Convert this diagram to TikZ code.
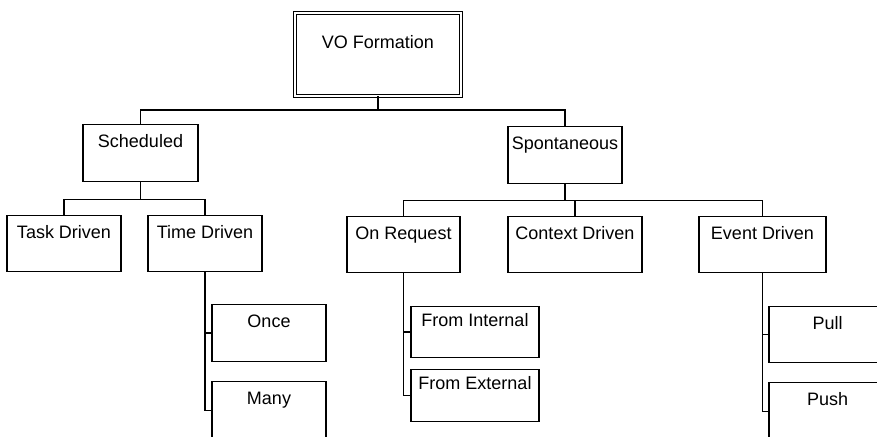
\documentclass[tikz,border=0pt]{standalone}
\usepackage{fontspec}
\setmainfont{Liberation Sans}
\begin{document}
\begin{tikzpicture}[x=1pt,y=-1pt,
  every node/.style={font=\fontsize{18pt}{21pt}\selectfont},
  box/.style={draw, line width=1.3pt, inner sep=0pt, anchor=north,
              text height=23pt, minimum height=0pt},
  rootbox/.style={box, line width=1pt, double, double distance=2pt,
              text height=35pt, text depth=47pt},
  link/.style={line width=1.4pt}]
\useasboundingbox (0,0) rectangle (877,436);
\clip (0,0) rectangle (877,436);

% root
\node[rootbox, minimum width=166pt] (vo) at (378,13) {VO Formation};

% first level
\node[box, minimum width=115pt, text depth=34pt] (sched) at (140.5,124) {Scheduled};
\node[box, minimum width=114pt, text depth=34pt] (spont) at (565,126) {Spontaneous};

% second level
\node[box, minimum width=114pt, text depth=33pt] (task)  at (64,215)    {Task Driven};
\node[box, minimum width=114pt, text depth=33pt] (time)  at (205,215)   {Time Driven};
\node[box, minimum width=113pt, text depth=33pt] (onreq) at (403.5,216) {On Request};
\node[box, minimum width=134pt, text depth=33pt] (ctx)   at (575,216)   {Context Driven};
\node[box, minimum width=127pt, text depth=33pt] (event) at (762.5,216) {Event Driven};

% third level
\node[box, minimum width=114pt, text depth=34pt] (once) at (269,304) {Once};
\node[box, minimum width=114pt, text depth=35pt] (many) at (269,381) {Many};
\node[box, minimum width=128pt, text height=20pt, text depth=31pt] (fromint) at (475,306) {From Internal};
\node[box, minimum width=128pt, text height=20pt, text depth=32pt] (fromext) at (475,369) {From External};
\node[box, minimum width=117pt, text depth=33pt] (pull) at (827.5,306) {Pull};
\node[box, minimum width=117pt, text depth=35pt] (push) at (827.5,382) {Push};

% connectors
\draw[link] (vo.south) -- ++(0,14) coordinate (j0);
\draw[link] (sched.north) |- (j0) -| (spont.north);

\draw[link] (sched.south) -- ++(0,17) coordinate (j1);
\draw[link] (task.north) |- (j1) -| (time.north);

\draw[link] (spont.south) -- ++(0,16) coordinate (j2);
\draw[link] (onreq.north) |- (j2) -| (event.north);
\draw[link] (ctx.north) -- (ctx.north |- j2);

\draw[link] (time.south) -- (time.south |- many.west) -- (many.west);
\draw[link] (once.west) -- (once.west -| time.south);

\draw[link] (onreq.south) -- (onreq.south |- fromext.west) -- (fromext.west);
\draw[link] (fromint.west) -- (fromint.west -| onreq.south);

\draw[link] (event.south) -- (event.south |- push.west) -- (push.west);
\draw[link] (pull.west) -- (pull.west -| event.south);
\end{tikzpicture}
\end{document}
